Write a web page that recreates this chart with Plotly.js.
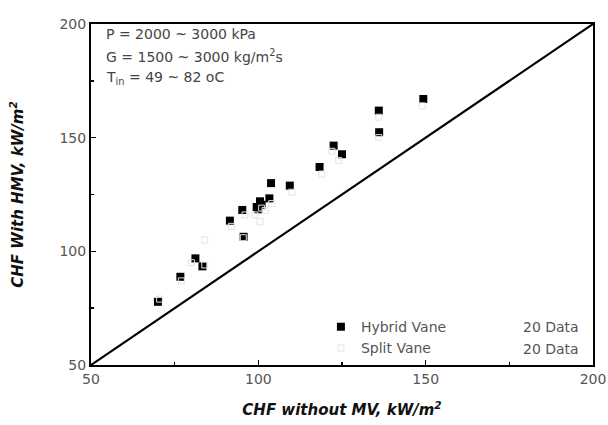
<!DOCTYPE html>
<html><head><meta charset="utf-8">
<script src="https://cdn.plot.ly/plotly-3.0.1.min.js"></script>
<style>body{margin:0;background:#fff}#c{width:608px;height:425px}</style>
</head><body><div id="c"></div>
<script>
// Hybrid Vane (filled squares)
const hybridX = [149.3, 136.0, 136.1, 122.5, 125.0, 118.3, 109.4, 103.8, 103.3, 100.5, 99.5, 101.0, 95.2, 91.5, 95.6, 81.2, 83.3, 76.7, 70.0, 100.0];
const hybridY = [167.0, 161.9, 152.4, 146.5, 142.7, 137.1, 128.9, 130.0, 123.3, 122.0, 119.5, 120.5, 118.2, 113.5, 106.4, 96.9, 93.4, 88.8, 77.8, 118.5];
// Split Vane (washed-out open symbols)
const splitX = [70.5, 77.0, 84.0, 84.0, 95.5, 100.5, 99.0, 102.0, 104.0, 96.0, 92.0, 110.0, 119.0, 124.0, 122.0, 136.0, 136.0, 149.0, 80.0, 101.0];
const splitY = [79.0, 87.0, 94.0, 105.0, 106.0, 113.0, 116.0, 118.0, 121.0, 116.0, 111.0, 126.0, 134.0, 140.0, 144.0, 150.0, 159.0, 164.0, 95.0, 119.0];
const diagX = [50, 200];
const diagY = [50, 200];
const xTicks = [50, 100, 150, 200];
const yTicks = [50, 100, 150, 200];
const seriesNames = ["Hybrid Vane", "Split Vane"];
const counts = ["20 Data", "20 Data"];

const font = "DejaVu Sans, Verdana, sans-serif";
const traces = [
  {x: diagX, y: diagY, mode: "lines", line: {color: "#000", width: 2.2}, showlegend: false, hoverinfo: "skip"},
  {x: hybridX, y: hybridY, mode: "markers", name: seriesNames[0],
   marker: {symbol: "square", size: 8, color: "#000"}},
  {x: splitX, y: splitY, mode: "markers", name: seriesNames[1],
   marker: {symbol: "square-open", size: 6, color: "#e4e4e4", line: {width: 1}}}
];
const axisCommon = {
  range: [50, 200], showgrid: false, zeroline: false, showline: true, mirror: true,
  linecolor: "#000", linewidth: 2, ticks: "inside", ticklen: 5, tickwidth: 1.5, tickcolor: "#000",
  tickfont: {family: font, size: 14, color: "#555"},
  minor: {dtick: 25, ticks: "inside", ticklen: 3, tickcolor: "#000", tickwidth: 1.5}
};
const layout = {
  width: 608, height: 425,
  margin: {l: 91, r: 15, t: 24, b: 60},
  paper_bgcolor: "#fff", plot_bgcolor: "#fff",
  showlegend: true,
  legend: {x: 0.458, y: 0.158, xanchor: "left", yanchor: "top", bgcolor: "rgba(0,0,0,0)",
    font: {family: font, size: 14, color: "#555"}, tracegroupgap: 0},
  xaxis: Object.assign({}, axisCommon, {tickvals: xTicks,
    title: {text: "<b><i>CHF without MV, kW/m<sup>2</sup></i></b>", font: {family: font, size: 15, color: "#111"}, standoff: 19}}),
  yaxis: Object.assign({}, axisCommon, {tickvals: yTicks,
    title: {text: "<b><i>CHF With HMV, kW/m<sup>2</sup></i></b>", font: {family: font, size: 15, color: "#111"}, standoff: 32}}),
  annotations: [
    {xref: "paper", yref: "paper", x: 0.026, y: 0.972, xanchor: "left", yanchor: "middle", showarrow: false,
     text: "P = 2000 ~ 3000 kPa", font: {family: font, size: 14, color: "#444"}},
    {xref: "paper", yref: "paper", x: 0.026, y: 0.905, xanchor: "left", yanchor: "middle", showarrow: false,
     text: "G = 1500 ~ 3000 kg/m<sup>2</sup>s", font: {family: font, size: 14, color: "#444"}},
    {xref: "paper", yref: "paper", x: 0.026, y: 0.843, xanchor: "left", yanchor: "middle", showarrow: false,
     text: "T<sub>in</sub> = 49 ~ 82 oC", font: {family: font, size: 14, color: "#444"}},
    {xref: "paper", yref: "paper", x: 0.976, y: 0.111, xanchor: "right", yanchor: "middle", showarrow: false,
     text: counts[0], font: {family: font, size: 14, color: "#555"}},
    {xref: "paper", yref: "paper", x: 0.976, y: 0.047, xanchor: "right", yanchor: "middle", showarrow: false,
     text: counts[1], font: {family: font, size: 14, color: "#555"}}
  ]
};
Plotly.newPlot("c", traces, layout, {displayModeBar: false, staticPlot: true});
</script></body></html>
